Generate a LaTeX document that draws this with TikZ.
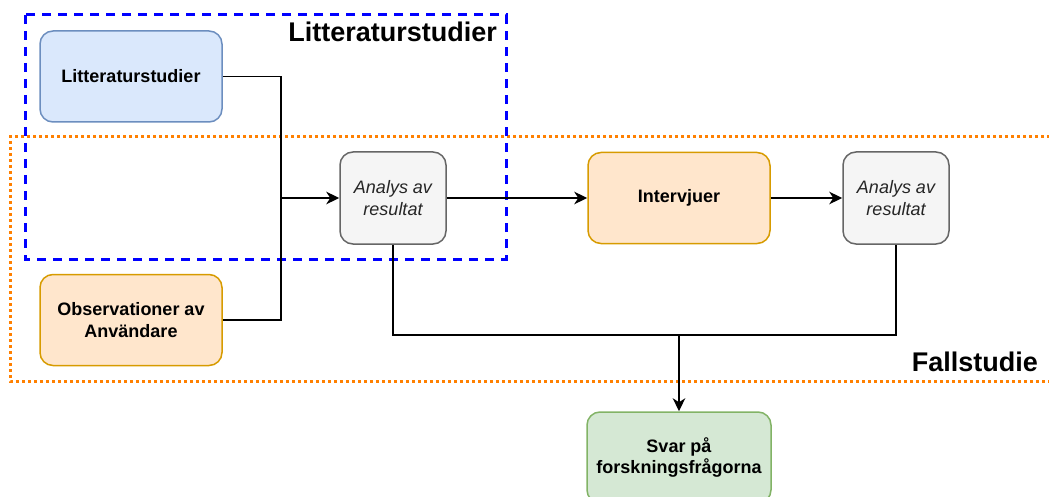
\documentclass[tikz,border=0pt]{standalone}
\usepackage{fontspec}
\setmainfont{Liberation Sans}
\usetikzlibrary{arrows.meta}
\definecolor{bluefill}{HTML}{DAE8FC}
\definecolor{bluestroke}{HTML}{6C8EBF}
\definecolor{orangefill}{HTML}{FFE6CC}
\definecolor{orangestroke}{HTML}{D79B00}
\definecolor{grayfill}{HTML}{F5F5F5}
\definecolor{graystroke}{HTML}{666666}
\definecolor{greenfill}{HTML}{D5E8D4}
\definecolor{greenstroke}{HTML}{82B366}
\definecolor{groupblue}{HTML}{0000FF}
\definecolor{grouporange}{HTML}{FF8000}
\tikzset{
  boxbase/.style={rectangle, rounded corners=13pt, line width=1.5pt, align=center,
    font=\fontsize{18}{21.6}\selectfont, inner sep=2pt},
  wide/.style={boxbase, minimum width=182pt, minimum height=91pt},
  narrow/.style={boxbase, minimum width=106pt, minimum height=92pt},
  litbox/.style={wide, fill=bluefill, draw=bluestroke, font=\fontsize{18}{21.6}\selectfont\bfseries},
  workbox/.style={wide, fill=orangefill, draw=orangestroke, font=\fontsize{18}{21.6}\selectfont\bfseries},
  analysbox/.style={narrow, fill=grayfill, draw=graystroke, text=black!85, font=\fontsize{18}{21.6}\selectfont\itshape},
  resultbox/.style={wide, minimum width=184pt, fill=greenfill, draw=greenstroke, font=\fontsize{18}{21.6}\selectfont\bfseries},
  link/.style={line width=1.6pt, draw=black},
  arrowlink/.style={link, -{Stealth[length=13pt, width=12.5pt, inset=4pt]}},
  grouptitle/.style={font=\fontsize{27}{32}\selectfont\bfseries, inner sep=0pt},
  litgroup/.style={draw=groupblue, line width=3pt, dash pattern=on 9pt off 7pt},
  casegroup/.style={draw=grouporange, line width=3pt, dash pattern=on 3pt off 3pt}
}
\begin{document}
\begin{tikzpicture}[x=1pt, y=-1pt]
  \useasboundingbox (0,0) rectangle (1049,497);

  % group frames
  \draw[casegroup] (1056,137) -- (10,137) -- (10,381) -- (1056,381);
  \draw[litgroup] (25,15) rectangle (506,259);
  \node[grouptitle, anchor=base east] (littitle) at (497,42) {Litteraturstudier};
  \node[grouptitle, anchor=base east] (falltitle) at (1038,371) {Fallstudie};

  % process steps
  \node[litbox] (lit) at (131,76.5) {Litteraturstudier};
  \node[workbox] (obs) at (131,320) {Observationer av\\Användare};
  \node[analysbox] (ana1) at (393,198) {Analys av\\resultat};
  \node[workbox] (int) at (679,198) {Intervjuer};
  \node[analysbox] (ana2) at (896,198) {Analys av\\resultat};
  \node[resultbox] (svar) at (679,457.5) {Svar på\\forskningsfrågorna};

  % junction points
  \coordinate (join) at (281,198);
  \coordinate (merge) at (679,335);

  % connectors
  \draw[arrowlink] (lit.east) -| (join) -- (ana1.west);
  \draw[link] (obs.east) -| (join);
  \draw[arrowlink] (ana1.east) -- (int.west);
  \draw[arrowlink] (int.east) -- (ana2.west);
  \draw[link] (ana1.south) |- (merge) -| (ana2.south);
  \draw[arrowlink] (merge) -- (svar.north);
\end{tikzpicture}
\end{document}
